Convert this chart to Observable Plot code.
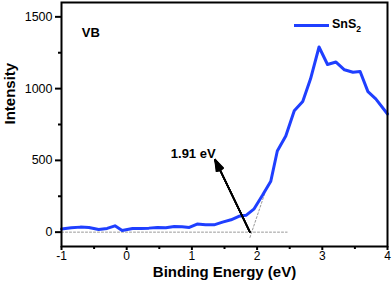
<!DOCTYPE html>
<html>
<head>
<meta charset="utf-8">
<script src="https://cdn.jsdelivr.net/npm/d3@7"></script>
<script src="https://cdn.jsdelivr.net/npm/@observablehq/plot@0.6"></script>
<style>
  body { margin: 0; background: #fff; }
  #chart { position: relative; width: 392px; height: 287px; font-family: "Liberation Sans", Arial, sans-serif; }
  #legend { position: absolute; left: 294px; top: 17px; display: flex; align-items: center; font-weight: bold; font-size: 12.5px; color: #000; }
  #legend .swatch { display: inline-block; width: 35px; height: 3px; }
  #legend sub { font-size: 8.5px; }
</style>
</head>
<body>
<div id="chart"></div>
<script>
// Valence-band XPS spectrum of SnS2
const energy = [-1, -0.85, -0.71, -0.58, -0.43, -0.30, -0.18, -0.07, 0.09, 0.22,
  0.34, 0.47, 0.60, 0.73, 0.85, 0.96, 1.08, 1.21, 1.34, 1.47,
  1.60, 1.72, 1.83, 1.95, 2.08, 2.21, 2.31, 2.44, 2.57, 2.70,
  2.82, 2.95, 3.08, 3.21, 3.34, 3.47, 3.58, 3.70, 3.82, 4.0];
const intensity = [22, 30, 35, 33, 18, 26, 44, 12, 26, 26,
  28, 33, 30, 40, 38, 33, 56, 51, 51, 70,
  86, 110, 117, 160, 255, 355, 565, 670, 846, 911,
  1068, 1290, 1168, 1185, 1131, 1114, 1119, 979, 928, 823];

const seriesName = ["SnS", "2"];           // SnS₂
const lineColor = "#1f3fff";

// Tick values
const xTicks = [-1, 0, 1, 2, 3, 4];
const xMinorTicks = [-0.5, 0.5, 1.5, 2.5, 3.5];
const yTicks = [0, 500, 1000, 1500];
const yMinorTicks = [250, 750, 1250];

// Annotation geometry (data units)
const baselineX = [-1, 2.46];
const baselineY = [0, 0];
const tangentX = [1.89, 2.12];
const tangentY = [-37, 273];
const arrowFrom = [1.89, 0];
const arrowTo = [1.355, 505];
const headAngles = [8, 16, 24, 32, 38];
const gapLabel = ["1.91 eV"];
const gapLabelPos = [1.02, 545];
const panelLabel = ["VB"];
const panelLabelPos = [-0.55, 1390];

const data = energy.map((e, i) => ({energy: e, intensity: intensity[i]}));
const baseline = baselineX.map((x, i) => ({x, y: baselineY[i]}));
const tangent = tangentX.map((x, i) => ({x, y: tangentY[i]}));
const arrowData = [{x1: arrowFrom[0], y1: arrowFrom[1], x2: arrowTo[0], y2: arrowTo[1]}];

const font = "Liberation Sans, Arial, sans-serif";

const plot = Plot.plot({
  width: 392,
  height: 287,
  marginLeft: 61,
  marginRight: 5,
  marginTop: 2,
  marginBottom: 41,
  style: {fontFamily: font, fontSize: "12px", color: "#000", background: "#fff"},
  x: {domain: [-1, 4]},
  y: {domain: [-100, 1600]},
  marks: [
    Plot.axisX({ticks: xTicks, tickSize: 4, tickPadding: 1, strokeWidth: 2, label: null,
      tickFormat: d => `${d}`, fontSize: 12}),
    Plot.axisX({ticks: xMinorTicks, tickSize: 3, strokeWidth: 2, text: null, label: null}),
    Plot.axisY({ticks: yTicks, tickSize: 6, tickPadding: 3, strokeWidth: 2, label: null,
      tickFormat: d => `${d}`, fontSize: 12.5}),
    Plot.axisY({ticks: yMinorTicks, tickSize: 3, strokeWidth: 2, text: null, label: null}),
    Plot.line(baseline, {x: "x", y: "y", stroke: "#999", strokeWidth: 1, strokeDasharray: "2,2"}),
    Plot.line(tangent, {x: "x", y: "y", stroke: "#999", strokeWidth: 1, strokeDasharray: "2,2"}),
    Plot.line(data, {x: "energy", y: "intensity", stroke: lineColor, strokeWidth: 3}),
    ...headAngles.map(a => Plot.arrow(arrowData,
      {x1: "x1", y1: "y1", x2: "x2", y2: "y2", stroke: "#000", strokeWidth: 1.6, headLength: 11, headAngle: a})),
    Plot.text(gapLabel, {x: gapLabelPos[0], y: gapLabelPos[1], text: d => d, fontWeight: "bold", fontSize: 13}),
    Plot.text(panelLabel, {x: panelLabelPos[0], y: panelLabelPos[1], text: d => d, fontWeight: "bold", fontSize: 13}),
    Plot.text(["Intensity"], {frameAnchor: "left", text: d => d, rotate: -90, dx: -51, fontWeight: "bold", fontSize: 15}),
    Plot.text(["Binding Energy (eV)"], {frameAnchor: "bottom", text: d => d, dy: 30, fontWeight: "bold", fontSize: 15}),
    Plot.frame({stroke: "#000", strokeWidth: 2})
  ]
});

const chart = document.getElementById("chart");
chart.appendChild(plot);

const legend = document.createElement("div");
legend.id = "legend";
legend.innerHTML = `<span class="swatch" style="background:${lineColor}"></span><span style="margin-left:3px">${seriesName[0]}<sub>${seriesName[1]}</sub></span>`;
chart.appendChild(legend);
</script>
</body>
</html>
